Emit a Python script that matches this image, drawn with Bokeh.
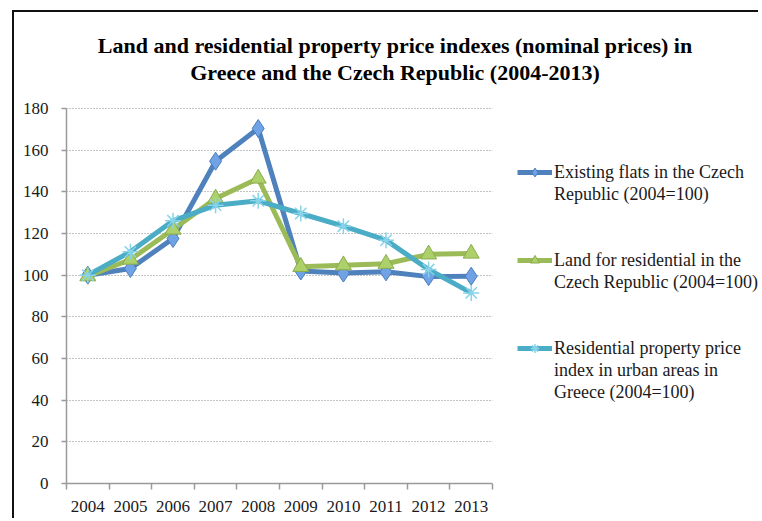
from bokeh.plotting import figure
from bokeh.models import (Range1d, FixedTicker, Legend, LegendItem, Label,
                          BoxAnnotation)
from bokeh.embed import file_html
from bokeh.resources import INLINE

# ---- data ----
years = [2004, 2005, 2006, 2007, 2008, 2009, 2010, 2011, 2012, 2013]
flats_cz = [100, 103.2, 117.6, 154.7, 170.4, 102.0, 101.0, 101.6, 99.3, 99.5]
land_cz = [99.5, 107.5, 121.9, 136.8, 146.4, 104.0, 104.8, 105.5, 110.0, 110.4]
greece_urban = [100, 111.2, 126.1, 133.6, 135.7, 129.6, 123.5, 116.8, 102.7, 91.5]
y_ticks = [0, 20, 40, 60, 80, 100, 120, 140, 160, 180]

title_lines = ["Land and residential property price indexes (nominal prices) in",
               "Greece and the Czech Republic (2004-2013)"]
legend_rows = [
    ["Existing flats in the Czech", "Republic (2004=100)"],
    ["Land for residential in the", "Czech Republic (2004=100)"],
    ["Residential property price", "index in urban areas in", "Greece (2004=100)"],
]

SERIF = "Liberation Serif"
TXT = "#1a1a1a"
AX = "#9a9a9a"

# ---- layout (pixels) ----
W, H = 746, 508                 # canvas
LEFT, BOTTOM, TOP = 52, 37, 4   # borders
FRAME_W, FRAME_H = W - LEFT, H - BOTTOM - TOP
PLOT_W, PLOT_H = 426, 375       # area used by the axes / data

x0 = years[0] - 0.5
x_span = len(years)
x1 = x0 + x_span * FRAME_W / PLOT_W
y_top = y_ticks[-1] * FRAME_H / PLOT_H


def px_x(px):      # frame-relative pixel -> data x
    return x0 + px / PLOT_W * x_span


def px_y(px):      # pixels above the x axis -> data y
    return px / PLOT_H * y_ticks[-1]


p = figure(width=W, height=H, output_backend="svg", toolbar_location=None,
           x_range=Range1d(x0, x1), y_range=Range1d(y_ticks[0], y_top),
           min_border_left=LEFT, min_border_right=0,
           min_border_top=TOP, min_border_bottom=BOTTOM)
p.margin = (12, 0, 0, 14)
p.styles = {"box-shadow": "-2px -2px 0 0 #111111"}
p.title.visible = False
p.outline_line_color = None
p.background_fill_color = "white"
p.border_fill_color = "white"

# axes
boundaries = [y - 0.5 for y in years] + [years[-1] + 0.5]
p.xaxis.ticker = FixedTicker(ticks=years, minor_ticks=boundaries)
p.yaxis.ticker = FixedTicker(ticks=y_ticks, minor_ticks=[])
p.xaxis.bounds = (boundaries[0], boundaries[-1])
p.yaxis.bounds = (y_ticks[0], y_ticks[-1])
for ax in (p.xaxis[0], p.yaxis[0]):
    ax.axis_line_color = AX
    ax.axis_line_width = 1.5
    ax.major_label_text_font = SERIF
    ax.major_label_text_font_size = "17px"
    ax.major_label_text_color = TXT
ax = p.xaxis[0]
ax.major_tick_line_color = None
ax.major_tick_out = 0
ax.major_tick_in = 0
ax.minor_tick_line_color = AX
ax.minor_tick_line_width = 1.5
ax.minor_tick_out = 6
ax.minor_tick_in = 0
ax.major_label_standoff = 11
ay = p.yaxis[0]
ay.major_tick_line_color = AX
ay.major_tick_line_width = 1.5
ay.major_tick_out = 5
ay.major_tick_in = 0
ay.minor_tick_line_color = None
ay.major_label_standoff = 13

p.xgrid.grid_line_color = None
p.ygrid.grid_line_color = "#888888"
p.ygrid.grid_line_dash = "1 2"
p.ygrid.grid_line_width = 1

# series
BLUE, GREEN, CYAN = "#4f81bd", "#9bbb59", "#4bacc6"
l1 = p.line(years, flats_cz, line_color=BLUE, line_width=5)
m1 = p.scatter(years, flats_cz, marker="diamond", size=18,
               fill_color="#6fa3e6", line_color="#4a7ebb", line_width=1)
l2 = p.line(years, land_cz, line_color=GREEN, line_width=5)
m2 = p.scatter(years, land_cz, marker="triangle", size=16,
               fill_color="#acd06a", line_color="#8cab4c", line_width=1)
l3 = p.line(years, greece_urban, line_color=CYAN, line_width=5)
m3 = p.scatter(years, greece_urban, marker="asterisk", size=16,
               line_color="#86d3ea", line_width=1.5)

# white area right of the data region (legend side), hides grid there
p.add_layout(BoxAnnotation(left=boundaries[-1], fill_color="white",
                           fill_alpha=1, line_color=None))

# legend (one row per text line; blank rows as spacers)
items = []
series_r = [[l1, m1], [l2, m2], [l3, m3]]
for gi, (rows, rends) in enumerate(zip(legend_rows, series_r)):
    for ri, txt in enumerate(rows):
        items.append(LegendItem(label=txt, renderers=rends if ri == 0 else []))
    if gi < len(legend_rows) - 1:
        for _ in range(4 - len(rows)):
            items.append(LegendItem(label="", renderers=[]))
legend = Legend(items=items, location=(451, 80), padding=0, spacing=0, margin=0,
                glyph_width=35, glyph_height=22, label_height=22, label_standoff=2,
                label_text_font=SERIF, label_text_font_size="18px",
                label_text_color=TXT, label_text_baseline="middle",
                background_fill_alpha=0, border_line_color=None)
p.add_layout(legend, "center")

# title
for txt, base_px in zip(title_lines, [438, 411]):
    p.add_layout(Label(x=px_x(328.5), y=px_y(base_px), text=txt,
                       text_align="center", text_baseline="alphabetic",
                       text_font=SERIF, text_font_style="bold",
                       text_font_size="22px", text_color="#000000"))

open("out.html", "w").write(file_html(p, INLINE))
